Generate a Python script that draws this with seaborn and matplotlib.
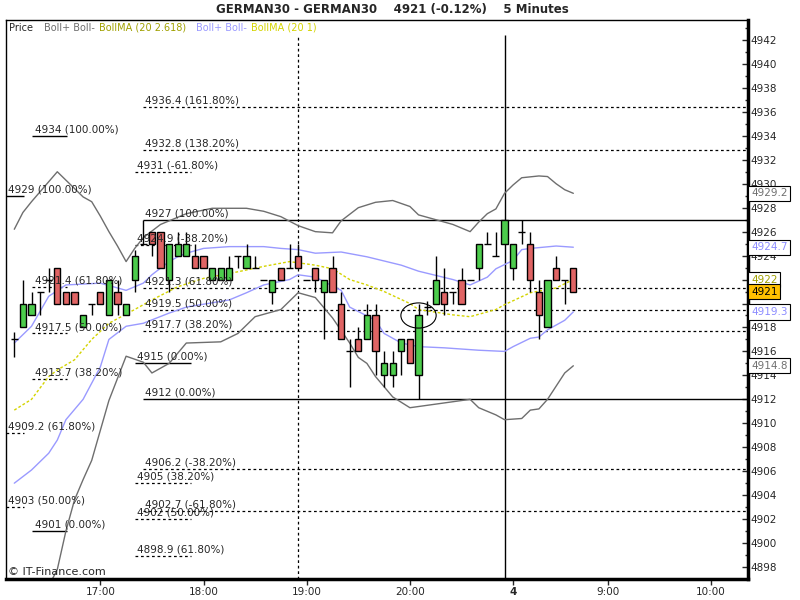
import numpy as np
import pandas as pd
import matplotlib
matplotlib.use('Agg')
import matplotlib.pyplot as plt
from matplotlib.patches import Ellipse
from matplotlib.ticker import MultipleLocator
import seaborn as sns

sns.set_style('white')
plt.rcParams['font.family'] = ['DejaVu Sans']

# 5 minute candles, bar 0 = 16:10
opens = [4917, 4918, 4919, 4921, 4922, 4923, 4921, 4921, 4918, 4920,
         4921, 4919, 4921, 4919, 4922, 4925, 4926, 4926, 4922, 4924,
         4924, 4924, 4924, 4922, 4922, 4922, 4924, 4923, 4923, 4922,
         4921, 4923, 4923, 4924, 4922, 4923, 4921, 4923, 4920, 4916,
         4917, 4917, 4919, 4914, 4914, 4916, 4917, 4914, 4919.75, 4920,
         4921, 4921, 4922, 4922, 4923, 4925, 4924, 4925, 4923, 4926,
         4925, 4921, 4918, 4923, 4922, 4923]
highs = [4917.6, 4922, 4921, 4921, 4923, 4923, 4921, 4921, 4919, 4920,
         4921, 4922, 4922, 4920, 4924.5, 4927, 4926, 4926, 4925, 4926,
         4926, 4925, 4924, 4923, 4923, 4924, 4924, 4925, 4924, 4922,
         4922, 4923, 4925, 4925, 4922, 4923, 4922, 4924, 4921, 4917,
         4918, 4920, 4920, 4916, 4916, 4917, 4917, 4920, 4920.25, 4924,
         4923, 4921, 4923, 4922, 4925, 4926, 4926, 4927, 4925, 4927,
         4926, 4922, 4922, 4924, 4922, 4923]
lows = [4915.5, 4918, 4919, 4919, 4921, 4920, 4920, 4920, 4918, 4919,
        4920, 4919, 4919, 4919, 4921, 4925, 4924, 4923, 4921, 4924,
        4924, 4923, 4923, 4922, 4922, 4922, 4923, 4923, 4923, 4922,
        4920, 4922, 4923, 4923, 4922, 4921, 4917, 4921, 4917, 4913,
        4916, 4917, 4914, 4913, 4913, 4914, 4915, 4912, 4919, 4920,
        4919, 4920, 4920, 4922, 4922, 4925, 4924, 4925, 4922, 4925,
        4921, 4917, 4918, 4922, 4920, 4921]
closes = [4917, 4920, 4920, 4921, 4922, 4920, 4920, 4920, 4919, 4920,
          4920, 4922, 4920, 4920, 4924, 4925, 4925, 4923, 4925, 4925,
          4925, 4923, 4923, 4923, 4923, 4923, 4924, 4924, 4923, 4922,
          4922, 4922, 4923, 4923, 4922, 4922, 4922, 4921, 4917, 4916,
          4916, 4919, 4916, 4915, 4915, 4917, 4915, 4919, 4919.75, 4922,
          4920, 4921, 4920, 4922, 4925, 4925, 4924, 4927, 4925, 4926,
          4922, 4919, 4922, 4922, 4922, 4921]

tick_bars = [10, 22, 34, 46, 58, 69, 81]
tick_labels = ['17:00', '18:00', '19:00', '20:00', '4', '9:00', '10:00']

# Bollinger (20, 2.618)
wide_up_bar = [0, 1, 2, 5, 8, 9, 10, 11, 12, 13, 14, 15, 17, 20, 23, 27, 29, 31, 33, 35,
               37, 38, 40, 42, 44, 46, 47, 49, 51, 52, 53, 54, 55, 56, 57, 58, 59, 61, 62,
               63, 64, 65]
wide_up = [4926.2, 4927.6, 4928.5, 4931.0, 4928.9, 4928.5, 4927.3, 4926.0, 4924.8, 4923.5,
           4924.6, 4925.5, 4926.6, 4927.5, 4927.95, 4927.95, 4927.7, 4927.25, 4926.5, 4926.0,
           4925.9, 4926.9, 4928.0, 4928.45, 4928.6, 4928.1, 4927.4, 4927.0, 4926.6, 4926.3,
           4926.0, 4926.8, 4927.5, 4927.9, 4929.2, 4929.9, 4930.5, 4930.65, 4930.6,
           4930.0, 4929.5, 4929.2]
wide_lo_bar = [2, 3, 4, 5, 6, 7, 8, 9, 10, 11, 13, 15, 16, 18, 20, 24, 26, 28, 31, 33,
               35, 37, 39, 40, 41, 42, 44, 46, 48, 50, 53, 54, 56, 57, 59, 60, 61, 62, 64, 65]
wide_lo = [4895.6, 4896.0, 4896.4, 4897.8, 4901.0, 4903.6, 4905.3, 4906.9, 4909.4, 4911.9,
           4915.6, 4915.1, 4914.2, 4915.0, 4916.7, 4916.8, 4917.5, 4918.9, 4919.5, 4920.9,
           4920.5, 4918.8, 4916.7, 4915.5, 4915.0, 4913.9, 4912.2, 4911.3, 4911.5, 4911.7,
           4912.0, 4911.3, 4910.7, 4910.3, 4910.4, 4911.1, 4911.2, 4912.0, 4914.2, 4914.8]

# Bollinger (20, 1)
narrow_up_bar = [0, 2, 4, 6, 10, 13, 15, 16, 18, 19, 20, 22, 25, 29, 31, 33, 35, 38, 41,
                 45, 47, 51, 53, 55, 56, 58, 59, 60, 63, 65]
narrow_up = [4916.7, 4918.1, 4920.6, 4921.55, 4921.7, 4921.1, 4921.7, 4922.4, 4923.5, 4923.9,
             4924.2, 4924.6, 4924.75, 4924.75, 4924.6, 4924.5, 4924.2, 4924.3, 4923.9,
             4923.2, 4922.7, 4922.0, 4921.55, 4922.2, 4922.9, 4923.6, 4924.5, 4924.6,
             4924.8, 4924.7]
narrow_lo_bar = [0, 2, 4, 5, 6, 8, 10, 11, 13, 15, 18, 20, 25, 27, 29, 32, 33, 35, 38, 39,
                 42, 43, 45, 47, 50, 52, 54, 57, 58, 60, 61, 62, 64, 65]
narrow_lo = [4905.0, 4906.1, 4907.5, 4908.6, 4910.3, 4912.0, 4914.7, 4917.0, 4918.1, 4918.35,
             4919.2, 4919.7, 4920.3, 4920.9, 4921.55, 4922.0, 4922.4, 4922.2, 4921.1, 4919.7,
             4918.6, 4917.5, 4916.7, 4916.4, 4916.3, 4916.2, 4916.1, 4916.0, 4916.4, 4917.1,
             4917.2, 4917.8, 4918.6, 4919.3]

# BollMA (20)
ma_bar = [0, 2, 4, 5, 7, 9, 11, 14, 16, 19, 22, 26, 29, 32, 35, 37, 39, 41, 43, 46, 47,
          51, 53, 56, 57, 60, 63, 65]
ma = [4911.1, 4912.0, 4913.9, 4914.45, 4915.3, 4917.0, 4918.35, 4919.5, 4920.3, 4921.4,
      4922.1, 4922.65, 4923.1, 4923.5, 4923.2, 4922.9, 4922.0, 4921.55, 4921.0, 4920.0,
      4919.5, 4919.05, 4918.9, 4919.5, 4919.9, 4920.9, 4921.3, 4922.0]

# Fibonacci drawings: (first bar, last bar), prices, labels
fib_a_bars = (15, 85.4)
fib_a_prices = [4936.4, 4932.8, 4927, 4921.3, 4919.5, 4917.7, 4912, 4906.2, 4902.7]
fib_a_labels = ['4936.4 (161.80%)', '4932.8 (138.20%)', '4927 (100.00%)', '4921.3 (61.80%)',
                '4919.5 (50.00%)', '4917.7 (38.20%)', '4912 (0.00%)', '4906.2 (-38.20%)',
                '4902.7 (-61.80%)']
fib_b_bars = (14, 20.6)
fib_b_prices = [4931, 4924.9, 4915, 4905, 4902, 4898.9]
fib_b_labels = ['4931 (-61.80%)', '4924.9 (-38.20%)', '4915 (0.00%)', '4905 (38.20%)',
                '4902 (50.00%)', '4898.9 (61.80%)']
fib_c_bars = (2.1, 6.1)
fib_c_prices = [4934, 4921.4, 4917.5, 4913.7, 4901]
fib_c_labels = ['4934 (100.00%)', '4921.4 (61.80%)', '4917.5 (50.00%)', '4913.7 (38.20%)',
                '4901 (0.00%)']
fib_d_bars = (-0.97, 1.13)
fib_d_prices = [4929, 4909.2, 4903]
fib_d_labels = ['4929 (100.00%)', '4909.2 (61.80%)', '4903 (50.00%)']

last_values = [('4929.2', 4929.2, '#707070', 'white'), ('4924.7', 4924.7, '#8c8cff', 'white'),
               ('4922', 4922.0, '#a0a000', 'white'), ('4921', 4921.0, 'black', '#ffc000'),
               ('4919.3', 4919.3, '#8c8cff', 'white'), ('4914.8', 4914.8, '#707070', 'white')]

GREEN = '#4ccc4c'
RED = '#e06464'
GRAY = '#6e6e6e'
BLUE = '#9a9aff'
YELLOW = '#d4d400'
OLIVE = '#a0a000'

header_parts = [('Boll+ Boll-', GRAY), ('BollMA (20 2.618)', OLIVE),
                ('Boll+ Boll-', BLUE), ('BollMA (20 1)', YELLOW)]

fig = plt.figure(figsize=(8, 6), dpi=100)
ax = fig.add_axes([6 / 800, 21 / 600, 742 / 800, 559 / 600])
ax.set_xlim(-0.965, 85.31)
ax.set_ylim(4897.0, 4943.67)

# bands
sns.lineplot(x=wide_up_bar, y=wide_up, ax=ax, color=GRAY, lw=1, zorder=2)
sns.lineplot(x=wide_lo_bar, y=wide_lo, ax=ax, color=GRAY, lw=1, zorder=2)
sns.lineplot(x=narrow_up_bar, y=narrow_up, ax=ax, color=BLUE, lw=1, zorder=2)
sns.lineplot(x=narrow_lo_bar, y=narrow_lo, ax=ax, color=BLUE, lw=1, zorder=2)
sns.lineplot(x=ma_bar, y=ma, ax=ax, color=YELLOW, lw=1, linestyle=(0, (2, 1.5)), zorder=2)

# fib levels
dash = (0, (2.2, 2.2))
for (b0, b1), prices, labels in [(fib_a_bars, fib_a_prices, fib_a_labels),
                                 (fib_b_bars, fib_b_prices, fib_b_labels),
                                 (fib_c_bars, fib_c_prices, fib_c_labels),
                                 (fib_d_bars, fib_d_prices, fib_d_labels)]:
    for p, lab in zip(prices, labels):
        solid = '(100.00%)' in lab or '(0.00%)' in lab
        ax.hlines(p, b0, b1, colors='black', lw=1 if solid else 0.9,
                  linestyles='solid' if solid else dash, zorder=1)
        ax.text(b0 + 0.25, p + 0.12, lab, fontsize=7.5, va='bottom', ha='left', zorder=6)

# vertical markers
ax.vlines(33, 4897.0, 4942.4, colors='black', lw=0.9, linestyles=dash, zorder=1)
ax.vlines(57, 4897.0, 4942.4, colors='black', lw=1, zorder=1)

# candles
o, h, l, c = map(np.array, (opens, highs, lows, closes))
bars = np.arange(len(o))
ax.vlines(bars, l, h, colors='black', lw=1, zorder=3)
up = c > o
dn = c < o
flat = c == o
ax.bar(bars[up], (c - o)[up], bottom=o[up], width=0.72, color=GREEN,
       edgecolor='black', linewidth=1, zorder=4)
ax.bar(bars[dn], (o - c)[dn], bottom=c[dn], width=0.72, color=RED,
       edgecolor='black', linewidth=1, zorder=4)
ax.hlines(o[flat], bars[flat] - 0.4, bars[flat] + 0.4, colors='black', lw=1, zorder=4)

ax.add_patch(Ellipse((47, 4919), 4.1, 2.1, fill=False, ec='black', lw=0.8, zorder=5))

# axes
ax.yaxis.tick_right()
ax.set_yticks(np.arange(4898, 4943, 2))
ax.yaxis.set_minor_locator(MultipleLocator(1))
ax.tick_params(axis='y', which='major', direction='in', length=4, width=1,
               labelsize=7.5, pad=2, right=True, left=False)
ax.tick_params(axis='y', which='minor', direction='in', length=2.5, width=1,
               right=True, left=False)
ax.set_xticks(tick_bars, tick_labels)
ax.tick_params(axis='x', direction='out', length=4, width=1, labelsize=7.5, pad=2,
               bottom=True)
ax.get_xticklabels()[4].set_fontweight('bold')
# 4920 sits fully under the last-value boxes
for lab in ax.get_yticklabels():
    if lab.get_text() in ('4920', '4922'):
        lab.set_visible(False)
for side in ['left', 'top']:
    ax.spines[side].set_linewidth(1)
for side in ['right', 'bottom']:
    ax.spines[side].set_linewidth(2.5)
for sp in ax.spines.values():
    sp.set_color('black')
ax.set_xlabel('')
ax.set_ylabel('')

for txt, val, col, bg in last_values:
    ax.text(1.004, val, txt, transform=ax.get_yaxis_transform(), va='center', ha='left',
            fontsize=7.5, color=col, clip_on=False, zorder=10,
            bbox=dict(boxstyle='square,pad=0.25', fc=bg, ec='black', lw=0.8))

# header and title
fig.text(0.49, 1 - 10 / 600, 'GERMAN30 - GERMAN30    4921 (-0.12%)    5 Minutes',
         ha='center', va='center', fontsize=8.5, fontweight='bold')
hy = 1 - 28 / 600
fig.text(9 / 800, hy, 'Price', fontsize=7, va='center')
renderer = fig.canvas.get_renderer()
hx = 44
for i, (txt, col) in enumerate(header_parts):
    t = fig.text(hx / 800, hy, txt, fontsize=7, va='center', color=col)
    bb = t.get_window_extent(renderer)
    hx = bb.x1 + (4 if i % 2 == 0 else 10)
fig.text(8 / 800, 1 - 572 / 600, '\u00a9 IT-Finance.com', fontsize=8, va='center')

fig.savefig('out.png', dpi=100)
